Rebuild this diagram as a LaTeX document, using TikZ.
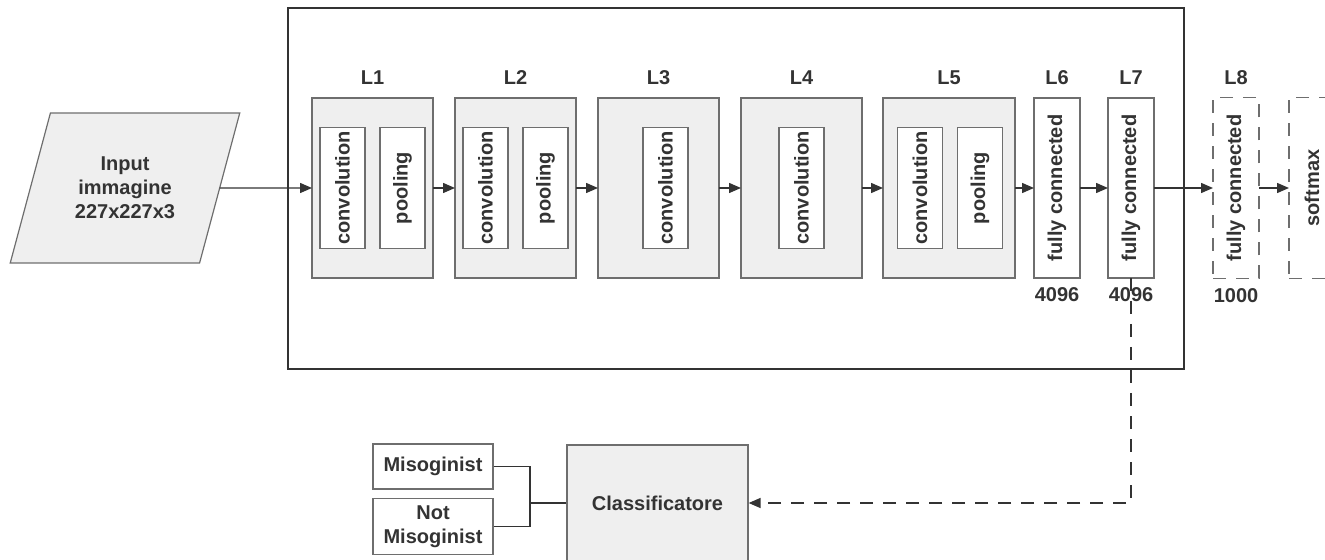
\documentclass[tikz,border=0pt]{standalone}
\usepackage{fontspec}
\setmainfont{Liberation Sans}
\usepackage{graphicx}
\usetikzlibrary{arrows.meta, calc, positioning, shapes.geometric}
\definecolor{boxline}{HTML}{6E6E6E}
\definecolor{boxfill}{HTML}{EFEFEF}
\definecolor{ink}{HTML}{333333}

\begin{document}
\begin{tikzpicture}[x=0.5pt, y=-0.5pt, >={Triangle[length=6pt,width=5pt]}, node distance=11pt,
    font=\fontsize{10}{12}\selectfont\bfseries, text=ink,
    layer/.style={draw=boxline, line width=0.6pt, fill=boxfill, minimum width=60.5pt, minimum height=90pt, inner sep=0pt, outer sep=0pt},
    op/.style={draw=boxline, line width=0.6pt, fill=white, minimum width=22.5pt, minimum height=60.5pt, inner sep=0pt, outer sep=0pt},
    fc/.style={draw=boxline, line width=0.6pt, fill=white, minimum width=23pt, minimum height=90pt, inner sep=0pt, outer sep=0pt},
    ghost/.style={draw=boxline, line width=0.6pt, dash pattern=on 6.5pt off 5pt, minimum width=23pt, minimum height=90.5pt, inner sep=0pt, outer sep=0pt},
    flow/.style={->, draw=ink, line width=0.7pt},
    link/.style={draw=ink, line width=0.7pt}]
\useasboundingbox (0,0) rectangle (1325,560);

    % Frame of the network
    \node[draw=ink, line width=0.8pt, minimum width=448pt, minimum height=180.5pt] (net) at (736,188.5) {};

    % Input
    \node[trapezium, trapezium left angle=75, trapezium right angle=105, inner xsep=-6.3pt,
          draw=boxline, line width=0.6pt, fill=boxfill, minimum height=75pt, outer sep=0pt, align=center] (inp) at (125,188) {Input\\immagine\\227x227x3};

    % Layers
    \node[layer] (l1) at (372.5,188) {};
    \node[layer, right=of l1] (l2) {};
    \node[layer, right=of l2] (l3) {};
    \node[layer, right=of l3] (l4) {};
    \node[layer, right=10.5pt of l4, minimum width=66pt] (l5) {};
    \node[fc, right=9.5pt of l5] (l6) {\rotatebox{90}{fully connected}};
    \node[fc, right=14pt of l6] (l7) {\rotatebox{90}{fully connected}};
    \node[ghost, right=29.5pt of l7] (l8) {\rotatebox{90}{fully connected}};
    \node[ghost, right=15pt of l8] (soft) {\rotatebox{90}{softmax}};

    % Operations inside the layers
    \node[op] (conv1) at ([xshift=-15pt]l1.center) {\rotatebox{90}{convolution}};
    \node[op] (pool1) at ([xshift=15pt]l1.center) {\rotatebox{90}{pooling}};
    \node[op] (conv2) at ([xshift=-15pt]l2.center) {\rotatebox{90}{convolution}};
    \node[op] (pool2) at ([xshift=15pt]l2.center) {\rotatebox{90}{pooling}};
    \node[op] (conv3) at ([xshift=3.5pt]l3.center) {\rotatebox{90}{convolution}};
    \node[op] (conv4) at (l4.center) {\rotatebox{90}{convolution}};
    \node[op] (conv5) at ([xshift=-14.5pt]l5.center) {\rotatebox{90}{convolution}};
    \node[op] (pool5) at ([xshift=15.5pt]l5.center) {\rotatebox{90}{pooling}};

    % Layer names and sizes
    \node[above=3pt of l1] (name1) {L1};
    \node[above=3pt of l2] (name2) {L2};
    \node[above=3pt of l3] (name3) {L3};
    \node[above=3pt of l4] (name4) {L4};
    \node[above=3pt of l5] (name5) {L5};
    \node[above=3pt of l6] (name6) {L6};
    \node[above=3pt of l7] (name7) {L7};
    \node[above=3pt of l8] (name8) {L8};
    \node[below=1pt of l6] (size6) {4096};
    \node[below=1pt of l7] (size7) {4096};
    \node[below=1.5pt of l8] (size8) {1000};

    % Classifier and classes
    \node[draw=boxline, line width=0.6pt, fill=boxfill, minimum width=90.5pt, minimum height=58pt] (cls) at (657.5,503) {Classificatore};
    \node[draw=boxline, line width=0.6pt, minimum width=60pt, minimum height=22.5pt] (mis) at (433,466.5) {Misoginist};
    \node[draw=boxline, line width=0.6pt, minimum width=60pt, minimum height=27.5pt, align=center] (notmis) at (433,526.5) {Not\\Misoginist};
    \coordinate (join) at (530,503);

    % Arrows
    \draw[flow] (inp) -- (l1);
    \draw[flow] (l1) -- (l2);
    \draw[flow] (l2) -- (l3);
    \draw[flow] (l3) -- (l4);
    \draw[flow] (l4) -- (l5);
    \draw[flow] (l5) -- (l6);
    \draw[flow] (l6) -- (l7);
    \draw[flow] (l7) -- (l8);
    \draw[flow] (l8) -- (soft);
    \draw[flow, dash pattern=on 6.5pt off 5pt] (l7.south) |- (cls.east);
    \draw[link] (mis.east) -| (join) |- (notmis.east);
    \draw[link] (join) -- (cls.west);
\end{tikzpicture}
\end{document}
